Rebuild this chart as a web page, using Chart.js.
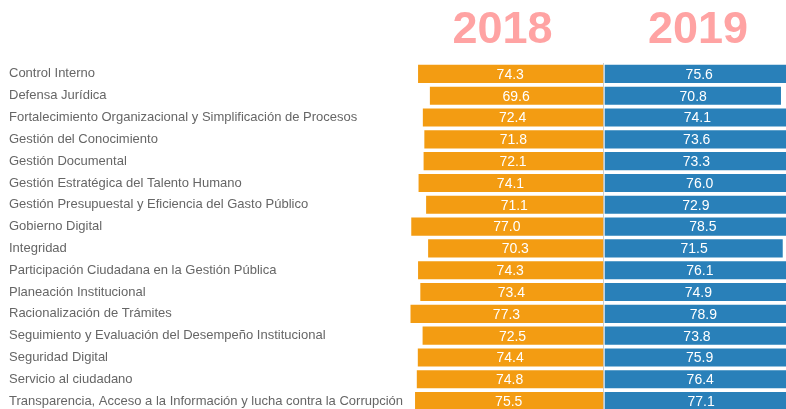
<!DOCTYPE html>
<html>
<head>
<meta charset="utf-8">
<script src="https://cdn.jsdelivr.net/npm/chart.js@4.4.1/dist/chart.umd.min.js"></script>
<style>
    html, body { margin: 0; padding: 0; background: #fff; overflow: hidden; }
    #wrap { position: relative; width: 786px; height: 412px; }
</style>
</head>
<body>
<div id="wrap"><canvas id="chart"></canvas></div>
<script>
const categories = [
    'Control Interno',
    'Defensa Jurídica',
    'Fortalecimiento Organizacional y Simplificación de Procesos',
    'Gestión del Conocimiento',
    'Gestión Documental',
    'Gestión Estratégica del Talento Humano',
    'Gestión Presupuestal y Eficiencia del Gasto Público',
    'Gobierno Digital',
    'Integridad',
    'Participación Ciudadana en la Gestión Pública',
    'Planeación Institucional',
    'Racionalización de Trámites',
    'Seguimiento y Evaluación del Desempeño Institucional',
    'Seguridad Digital',
    'Servicio al ciudadano',
    'Transparencia, Acceso a la Información y lucha contra la Corrupción'
];
const years = ['2018', '2019'];
const values2018 = [74.3, 69.6, 72.4, 71.8, 72.1, 74.1, 71.1, 77.0, 70.3, 74.3, 73.4, 77.3, 72.5, 74.4, 74.8, 75.5];
const values2019 = [75.6, 70.8, 74.1, 73.6, 73.3, 76.0, 72.9, 78.5, 71.5, 76.1, 74.9, 78.9, 73.8, 75.9, 76.4, 77.1];

// etiquetas de valor dentro de cada barra
const valueLabels = {
    id: 'valueLabels',
    afterDatasetsDraw(chart) {
        const ctx = chart.ctx;
        ctx.save();
        ctx.fillStyle = '#ffffff';
        ctx.font = '14px "Liberation Sans", Arial, sans-serif';
        ctx.textAlign = 'center';
        ctx.textBaseline = 'middle';
        chart.data.datasets.forEach((ds, i) => {
            chart.getDatasetMeta(i).data.forEach((bar, j) => {
                const x = (bar.x + bar.base) / 2;
                ctx.fillText(Math.abs(ds.data[j]).toFixed(1), x, bar.y + 1);
            });
        });
        ctx.restore();
    }
};

// títulos grandes de cada año
const yearHeaders = {
    id: 'yearHeaders',
    afterDraw(chart) {
        const ctx = chart.ctx;
        const area = chart.chartArea;
        const zero = chart.scales.x.getPixelForValue(0);
        ctx.save();
        ctx.fillStyle = '#ffa3a3';
        ctx.font = 'bold 45px "Liberation Sans", Arial, sans-serif';
        ctx.textAlign = 'center';
        ctx.textBaseline = 'alphabetic';
        ctx.fillText(years[0], (area.left + zero) / 2 - 3, 43);
        ctx.fillText(years[1], (zero + area.right) / 2 + 3, 43);
        ctx.restore();
    }
};

new Chart(document.getElementById('chart'), {
    type: 'bar',
    data: {
        labels: categories,
        datasets: [{
            label: years[0],
            data: values2018.map(v => -v),
            backgroundColor: '#f39c12',
            borderColor: 'rgba(255, 255, 255, 0.45)',
            borderWidth: 1,
            borderSkipped: 'start',
            barPercentage: 0.92,
            categoryPercentage: 1
        }, {
            label: years[1],
            data: values2019,
            backgroundColor: '#2980b9',
            borderColor: 'rgba(255, 255, 255, 0.45)',
            borderWidth: 1,
            borderSkipped: 'start',
            barPercentage: 0.92,
            categoryPercentage: 1
        }]
    },
    options: {
        indexAxis: 'y',
        responsive: true,
        maintainAspectRatio: false,
        animation: false,
        layout: { padding: { left: 9, top: 63, right: 0, bottom: 0 } },
        plugins: {
            legend: { display: false },
            tooltip: { enabled: false }
        },
        scales: {
            x: {
                stacked: true,
                min: -78.3,
                max: 72.4,
                z: 1,
                afterBuildTicks: (scale) => { scale.ticks = [{ value: 0 }]; },
                afterFit: (scale) => { scale.height = 0; },
                ticks: { display: false },
                border: { display: false },
                grid: { color: 'rgba(0, 0, 0, 0.2)', drawTicks: false, lineWidth: 1 }
            },
            y: {
                stacked: true,
                afterFit: (scale) => {
                    scale.width = 398;
                    scale.paddingTop = 0;
                    scale.paddingBottom = 0;
                },
                border: { display: false },
                grid: { display: false, drawTicks: false },
                ticks: {
                    crossAlign: 'far',
                    color: '#666',
                    padding: 0,
                    font: { family: '"Liberation Sans", Arial, sans-serif', size: 13 }
                }
            }
        }
    },
    plugins: [valueLabels, yearHeaders]
});
</script>
</body>
</html>
